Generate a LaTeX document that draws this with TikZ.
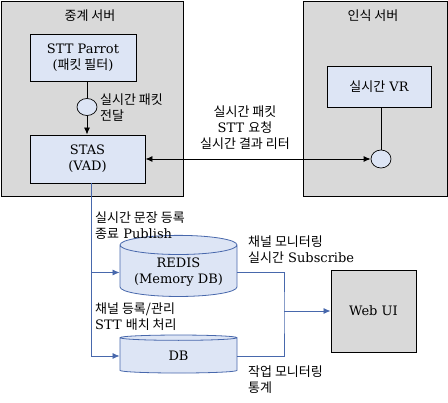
\documentclass[tikz,border=0pt]{standalone}
\usepackage{fontspec}
\setmainfont{DejaVu Serif}
\newfontfamily\kr{Noto Sans CJK KR}
\usetikzlibrary{shapes.geometric,arrows.meta}

\definecolor{srvgray}{RGB}{217,217,217}
\definecolor{boxblue}{RGB}{221,229,245}
\definecolor{lineblue}{RGB}{72,104,172}

\begin{document}
\begin{tikzpicture}[x=1pt, y=-1pt,
  font=\fontsize{13}{16}\selectfont,
  >={Latex[length=7pt,width=6pt]},
  server/.style={draw, line width=0.9pt, fill=srvgray},
  unit/.style={draw, line width=0.9pt, fill=boxblue, align=center},
  port/.style={draw, ellipse, line width=0.7pt, fill=boxblue},
  store/.style={draw=lineblue, line width=0.8pt, fill=boxblue, cylinder,
    shape border rotate=90, aspect=0.2, align=center},
  flow/.style={draw=lineblue, line width=0.8pt},
  note/.style={align=left, anchor=west, inner sep=0pt}]

\useasboundingbox (0,0) rectangle (448,403);

% servers
\node[server, minimum width=182, minimum height=195] (relay) at (92,98.5) {};
\node[server, minimum width=144, minimum height=195] (recog) at (375,98.5) {};
\node (relaytitle) at (90,16) {\kr 중계 서버};
\node (recogtitle) at (373,16) {\kr 인식 서버};

% relay server
\node[unit, minimum width=106, minimum height=47] (parrot) at (83,57.5)
  {STT Parrot\\({\kr 패킷 필터})};
\node[port, minimum width=20, minimum height=17, inner sep=0pt] (pktdot) at (87,107) {};
\node[unit, minimum width=115, minimum height=48] (stas) at (87.5,159)
  {STAS\\(VAD)};
\node[note] (pktlabel) at (100,108) {{\kr 실시간 패킷}\\{\kr 전달}};

\draw[line width=0.9pt] (pktdot.north |- parrot.south) -- (pktdot);
\draw[line width=0.9pt, ->] (pktdot) -- (pktdot |- stas.north);

% recognition server
\node[unit, minimum width=104, minimum height=41] (vr) at (379,86.5) {{\kr 실시간} VR};
\node[port, minimum width=20, minimum height=18, inner sep=0pt] (vrdot) at (381,159) {};
\draw[line width=0.9pt] (vrdot |- vr.south) -- (vrdot);

\draw[line width=0.9pt, <->] (stas.east) -- (vrdot.west);
\node[align=center] (rtlabel) at (245,128)
  {{\kr 실시간 패킷}\\STT {\kr 요청}\\{\kr 실시간 결과 리터}};

% storage
\node[store, minimum width=117, minimum height=47] (redis) at (178.5,272.5)
  {REDIS\\(Memory DB)};
\node[store, minimum width=117, minimum height=38] (db) at (178.5,356) {DB};
\node[unit, fill=srvgray, minimum width=85, minimum height=82] (webui) at (373.5,311) {Web UI};

\coordinate (bus) at (91,183);
\coordinate (merge) at (284,311);

\draw[flow, ->] (bus) |- (redis.west);
\draw[flow, ->] (bus) |- (db.west);
\draw[flow] (redis.east) -| (merge) |- (db.east);
\draw[flow, ->] (merge) -- (webui.west);

\node[note] (publabel) at (95,226) {{\kr 실시간 문장 등록}\\{\kr 종료} Publish};
\node[note] (batchlabel) at (95,317) {{\kr 채널 등록/관리}\\STT {\kr 배치 처리}};
\node[note] (sublabel) at (248,250) {{\kr 채널 모니터링}\\{\kr 실시간} Subscribe};
\node[note] (statlabel) at (248,380) {{\kr 작업 모니터링}\\{\kr 통계}};

\end{tikzpicture}
\end{document}
